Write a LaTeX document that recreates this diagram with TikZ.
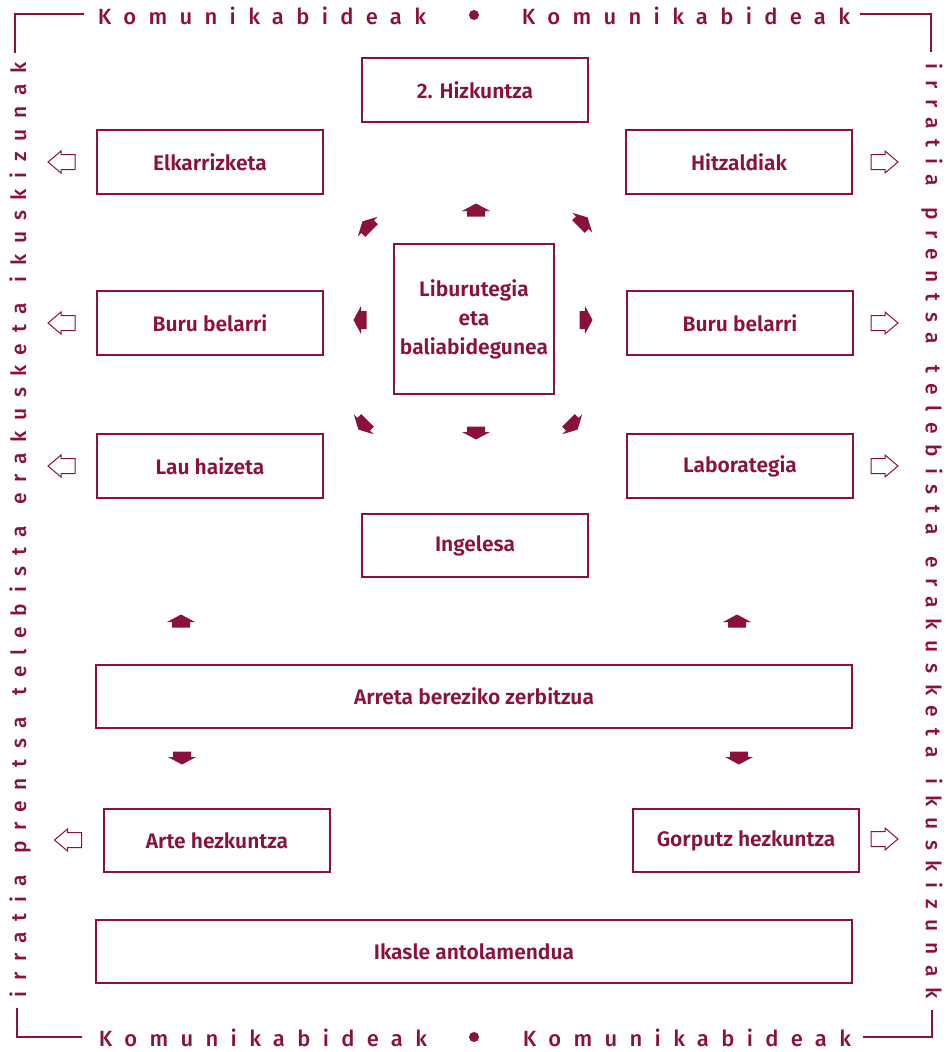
\documentclass[tikz,border=0pt]{standalone}
\usepackage{fontspec}
\setmainfont{Fira Sans}[UprightFont={* Medium}, BoldFont={* SemiBold}]
\usetikzlibrary{positioning}

\definecolor{granate}{RGB}{139,16,62}

\newcommand{\gap}{\hspace{5pt} }

\tikzset{
  box/.style={draw=granate, line width=1.5pt, text=granate, inner sep=0pt,
    minimum width=226pt, minimum height=64pt, align=center,
    font=\fontsize{21}{29}\selectfont\bfseries},
  framelabel/.style={text=granate, inner sep=0pt,
    font=\fontsize{22}{22}\selectfont\addfontfeature{LetterSpace=56}},
  sidelabel/.style={text=granate, inner sep=0pt,
    font=\fontsize{21}{21}\selectfont\addfontfeature{LetterSpace=51}},
  dot/.style={circle, fill=granate, inner sep=0pt, minimum size=10pt},
  fullarrow/.pic={
    \fill[granate] (-6.5,-9) -- (-1,-9) -- (-1,-14) -- (6.5,0)
      -- (-1,14) -- (-1,9) -- (-6.5,9) -- cycle;
  },
  openarrow/.pic={
    \draw[granate, line width=1pt, line join=miter] (13.5,0) -- (0.5,-11)
      -- (0.5,-7.5) -- (-13.5,-7.5) -- (-13.5,7.5) -- (0.5,7.5)
      -- (0.5,11) -- cycle;
  }
}

\begin{document}
\begin{tikzpicture}[x=1pt, y=-1pt]
  \useasboundingbox (0,0) rectangle (947,1052);

  % marco
  \draw[granate, line width=1.2pt] (15,53) -- (15,14) -- (84,14);
  \draw[granate, line width=1.2pt] (860,14) -- (931,14) -- (931,52);
  \draw[granate, line width=1.2pt] (17,1008) -- (17,1037) -- (82,1037);
  \draw[granate, line width=1.2pt] (863,1037) -- (932,1037) -- (932,1010);

  \node[framelabel] (topl) at (262,16) {Komunikabideak};
  \node[dot] (topdot) at (474,15) {};
  \node[framelabel] (topr) at (686,16) {Komunikabideak};
  \node[framelabel] (botl) at (263,1038) {Komunikabideak};
  \node[dot] (botdot) at (474,1037) {};
  \node[framelabel] (botr) at (687,1038) {Komunikabideak};

  \node[sidelabel, rotate=90] (leftlbl) at (20,530)
    {irratia\gap prentsa\gap telebista\gap erakusketa\gap ikuskizunak};
  \node[sidelabel, rotate=-90] (rightlbl) at (932,531)
    {irratia\gap prentsa\gap telebista\gap erakusketa\gap ikuskizunak};

  % kutxak
  \node[box] (hizk) at (475,90) {2. Hizkuntza};
  \node[box] (elkar) at (210,162) {Elkarrizketa};
  \node[box] (hitz) at (739,162) {Hitzaldiak};
  \node[box, minimum width=160pt, minimum height=150pt] (libu) at (474,319)
    {Liburutegia\\eta\\baliabidegunea};
  \node[box] (burul) at (210,323) {Buru belarri};
  \node[box] (burur) at (740,323) {Buru belarri};
  \node[box] (lau) at (210,466) {Lau haizeta};
  \node[box] (labor) at (740,466) {Laborategia};
  \node[box, minimum height=63pt] (ingel) at (475,545.5) {Ingelesa};
  \node[box, minimum width=756pt, minimum height=63pt] (arreta) at (474,696.5)
    {Arreta bereziko zerbitzua};
  \node[box, minimum height=63pt] (arte) at (217,840.5) {Arte hezkuntza};
  \node[box, minimum height=63pt] (gorp) at (746,840.5) {Gorputz hezkuntza};
  \node[box, minimum width=756pt, minimum height=63pt] (ikasle) at (474,951.5)
    {Ikasle antolamendua};

  % geziak
  \foreach \x/\y/\a in {476/210/90, 583/222/45, 586/320/0, 573/425/-45,
      476/433/-90, 363/425/-135, 360/320/180, 367/226/135,
      181/621/90, 737/621/90, 182/758/-90, 739/758/-90}
    \pic[rotate=\a] at (\x,\y) {fullarrow};

  \foreach \y in {162,323,466}
    \pic[rotate=180] at (61.5,\y) {openarrow};
  \pic[rotate=180] at (68,840) {openarrow};
  \foreach \y in {162,323,466,839}
    \pic at (884.5,\y) {openarrow};
\end{tikzpicture}
\end{document}
